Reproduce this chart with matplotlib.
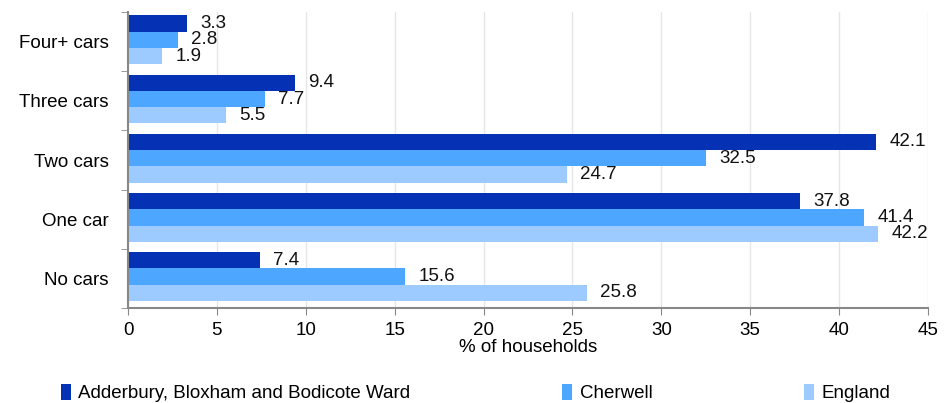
import numpy as np
import matplotlib.pyplot as plt
from matplotlib.patches import Patch

plt.rcParams['font.family'] = ['Liberation Sans', 'DejaVu Sans']

# categories bottom -> top
categories = ['No cars', 'One car', 'Two cars', 'Three cars', 'Four+ cars']
ward = [7.4, 37.8, 42.1, 9.4, 3.3]
cherwell = [15.6, 41.4, 32.5, 7.7, 2.8]
england = [25.8, 42.2, 24.7, 5.5, 1.9]
series_names = ['Adderbury, Bloxham and Bodicote Ward', 'Cherwell', 'England']
colors = ['#0532B4', '#4DA6FF', '#9DCBFF']
fs = 13.5

fig = plt.figure(figsize=(9.49, 4.03), dpi=100)
ax = fig.add_axes([0.1349, 0.2357, 0.8430, 0.7345])

y = np.arange(len(categories))
h = 0.275
offsets = [h, 0, -h]
for vals, off, c in zip([ward, cherwell, england], offsets, colors):
    bars = ax.barh(y + off + 0.03, vals, height=h, color=c, zorder=2)
    for b, v in zip(bars, vals):
        ax.text(v + 0.75, b.get_y() + b.get_height() / 2, f'{v:.1f}',
                va='center', ha='left', fontsize=fs, color='#111111')

ax.set_xlim(0, 45)
ax.set_ylim(-0.5, len(categories) - 0.5)
ax.set_xticks(np.arange(0, 46, 5))
ax.set_yticks(y)
ax.set_yticklabels(categories)
ax.set_yticks(np.arange(-0.5, len(categories), 1), minor=True)
ax.tick_params(axis='y', which='major', length=0, pad=14, labelsize=fs)
ax.tick_params(axis='y', which='minor', length=5, color='#888888')
ax.tick_params(axis='x', length=5, color='#888888', labelsize=fs, pad=5)
ax.set_xlabel('% of households', fontsize=fs, labelpad=0)

ax.grid(axis='x', color='#e6e6e6', linewidth=1, zorder=0)
for s in ['top', 'right']:
    ax.spines[s].set_visible(False)
for s in ['left', 'bottom']:
    ax.spines[s].set_color('#888888')
    ax.spines[s].set_linewidth(1.5)

handles = [Patch(facecolor=c, edgecolor='none') for c in colors]
fig.legend(handles, series_names, loc='lower left', ncol=3,
           bbox_to_anchor=(0.056, -0.017, 0.89, 0.06), mode='expand',
           frameon=False, fontsize=fs, handlelength=0.55, handleheight=0.9,
           handletextpad=0.4, borderaxespad=0)

fig.savefig('out.png', dpi=100)
